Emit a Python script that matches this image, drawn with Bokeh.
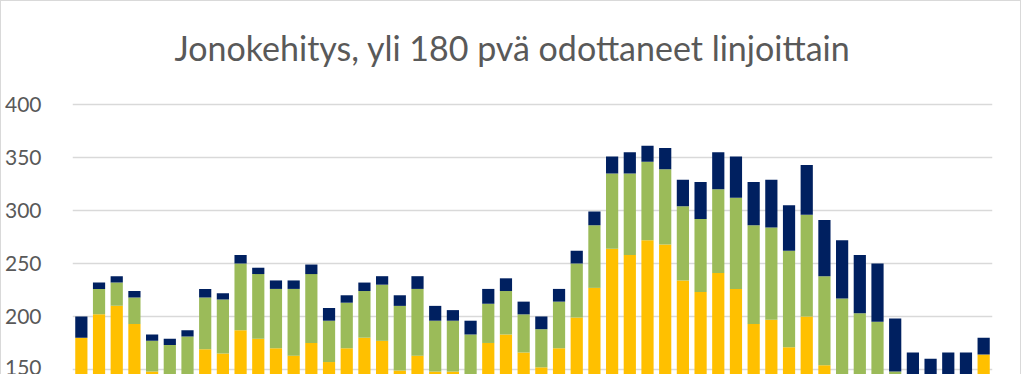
from bokeh.plotting import figure
from bokeh.models import FixedTicker, ColumnDataSource
from bokeh.core.properties import value
from bokeh.embed import file_html
from bokeh.resources import INLINE

title_text = "Jonokehitys, yli 180 pvä odottaneet linjoittain"

periods = list(range(1, 53))

line_yellow = [180, 202, 210, 193, 148, 140, 142, 169, 165, 187,
               179, 170, 163, 175, 157, 170, 180, 177, 149, 163,
               148, 148, 140, 175, 183, 166, 152, 170, 199, 227,
               264, 258, 272, 268, 234, 223, 241, 226, 193, 197,
               171, 200, 154, 135, 130, 128, 120, 110, 108, 110,
               110, 164]
line_green = [0, 24, 22, 25, 29, 33, 39, 49, 51, 63,
              61, 56, 63, 65, 39, 43, 44, 53, 61, 63,
              48, 48, 43, 37, 41, 36, 36, 44, 51, 59,
              71, 77, 74, 71, 70, 69, 79, 86, 93, 87,
              91, 96, 84, 82, 73, 67, 28, 25, 24, 25,
              25, 0]
line_navy = [20, 6, 6, 6, 6, 6, 6, 8, 6, 8,
             6, 8, 8, 9, 12, 7, 8, 8, 10, 12,
             14, 10, 13, 14, 12, 12, 12, 12, 12, 13,
             16, 20, 15, 20, 25, 35, 35, 39, 41, 45,
             43, 47, 53, 55, 55, 55, 50, 31, 28, 31,
             31, 16]

y_ticks = [150, 200, 250, 300, 350, 400]

colors = ["#FFC000", "#9BBB59", "#002060"]

src = ColumnDataSource(dict(x=periods, a=line_yellow, b=line_green, c=line_navy))

p = figure(width=1021, height=374,
           x_range=(0.5, 52.5), y_range=(144.3, 497.2),
           output_backend="svg", toolbar_location=None,
           x_axis_location=None,
           min_border_left=67, min_border_right=30,
           min_border_top=0, min_border_bottom=0,
           background_fill_color="white", border_fill_color="white")
p.styles = {"border-top": "1px solid #d9d9d9",
            "border-left": "1px solid #d9d9d9",
            "border-right": "1px solid #d9d9d9"}

p.vbar_stack(["a", "b", "c"], x="x", width=0.69, color=colors,
             line_color=None, source=src)

p.outline_line_color = None
p.xgrid.grid_line_color = None
p.ygrid.grid_line_color = "#d9d9d9"
p.ygrid.grid_line_width = 1.5
p.yaxis.ticker = FixedTicker(ticks=y_ticks)
p.yaxis.axis_line_color = None
p.yaxis.major_tick_line_color = None
p.yaxis.minor_tick_line_color = None
p.yaxis.major_label_text_font = "Lato"
p.yaxis.major_label_text_font_size = "21px"
p.yaxis.major_label_text_color = "#595959"
p.yaxis.major_label_standoff = 25

p.text(x=[25.37], y=[453.5], text=[title_text],
       text_font=value("Lato"), text_font_size="34px",
       text_color="#595959", text_align="center", text_baseline="middle")

open("out.html", "w").write(file_html(p, INLINE))
